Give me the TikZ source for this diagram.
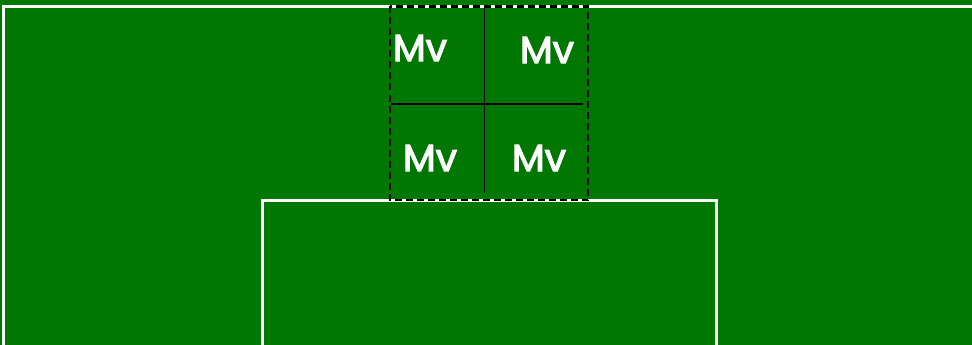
\documentclass[tikz,border=0pt]{standalone}
\usepackage{fontspec}
\setmainfont{Poppins}
\newfontfamily\lblfont{Poppins}[FakeBold=3]
\definecolor{pitch}{RGB}{0,119,0}
\begin{document}
\begin{tikzpicture}[x=1pt,y=-1pt,
  whiteline/.style={draw=white,line width=2.6pt},
  thinline/.style={draw=black,line width=1.3pt},
  dashbox/.style={draw=black,line width=2.4pt,dash pattern=on 7pt off 4pt},
  lbl/.style={text=white,font=\lblfont\fontsize{38}{38}\selectfont,inner sep=0pt,anchor=center}]
\useasboundingbox (0,0) rectangle (972,345);
\fill[pitch] (0,0) rectangle (972,345);
\begin{scope}
\clip (0,0) rectangle (972,345);
\draw[whiteline] (3.5,6.5) rectangle (990,360);
\draw[whiteline] (262.5,200.5) rectangle (716.5,360);
\end{scope}
\coordinate (vt) at (484.5,8);
\coordinate (vb) at (484.5,193);
\coordinate (hl) at (391,104);
\coordinate (hr) at (583,104);
\draw[thinline] (vt) -- (vb);
\draw[thinline] (hl) -- (hr);
\draw[dashbox] (390,6.5) rectangle (588,200);
\node[lbl] (tl) at (420,48) {Mv};
\node[lbl] (tr) at (547,50) {Mv};
\node[lbl] (bl) at (430,158) {Mv};
\node[lbl] (br) at (539,158) {Mv};
\end{tikzpicture}
\end{document}
